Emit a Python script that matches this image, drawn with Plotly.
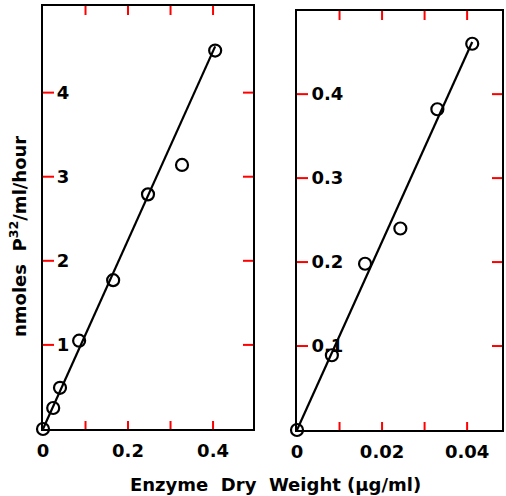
import plotly.graph_objects as go

# Left panel data (µg/ml, nmoles P32/ml/hour)
left_x = [0, 0.024, 0.040, 0.085, 0.165, 0.247, 0.327, 0.405]
left_y = [0, 0.25, 0.49, 1.05, 1.77, 2.79, 3.14, 4.50]
left_fit_x = [0, 0.405]
left_fit_y = [0, 4.55]

# Right panel data
right_x = [0, 0.0082, 0.0160, 0.0243, 0.0330, 0.0412]
right_y = [0, 0.089, 0.198, 0.240, 0.382, 0.460]
right_fit_x = [0, 0.0412]
right_fit_y = [0, 0.462]

left_xticks = [0, 0.1, 0.2, 0.3, 0.4]
left_xticktext = ["0", "", "0.2", "", "0.4"]
left_yticks = [1, 2, 3, 4]
left_yticktext = ["1", "2", "3", "4"]
right_xticks = [0, 0.01, 0.02, 0.03, 0.04]
right_xticktext = ["0", "", "0.02", "", "0.04"]
right_yticks = [0.1, 0.2, 0.3, 0.4]
right_yticktext = ["0.1", "0.2", "0.3", "0.4"]

FONT = "DejaVu Sans"
W, H = 506, 496
LEFT_XR = [0, 0.494]
LEFT_YR = [0, 5.03]
RIGHT_XR = [0, 0.0482]
RIGHT_YR = [0, 0.499]

fig = go.Figure()
line_style = dict(color="black", width=2.2)
marker_style = dict(symbol="circle-open", size=12, color="black", line=dict(width=2.2, color="black"))

fig.add_trace(go.Scatter(x=left_fit_x, y=left_fit_y, mode="lines", line=line_style,
                         xaxis="x", yaxis="y", showlegend=False, cliponaxis=False))
fig.add_trace(go.Scatter(x=left_x, y=left_y, mode="markers", marker=dict(**marker_style),
                         xaxis="x", yaxis="y", showlegend=False, cliponaxis=False))
fig.add_trace(go.Scatter(x=right_fit_x, y=right_fit_y, mode="lines", line=line_style,
                         xaxis="x2", yaxis="y2", showlegend=False, cliponaxis=False))
fig.add_trace(go.Scatter(x=right_x, y=right_y, mode="markers", marker=dict(**marker_style),
                         xaxis="x2", yaxis="y2", showlegend=False, cliponaxis=False))

tickfont = dict(family=FONT, size=18, color="black", weight="bold")
base = dict(showgrid=False, zeroline=False, showline=True, linecolor="black", linewidth=2.2,
            mirror=True, ticks="", tickfont=tickfont, tickmode="array", automargin=False)
common_x = dict(base, ticklabelstandoff=4)
common_y = dict(base, ticklabelposition="outside")

# inward tick marks on all four sides, placed at the axis tick values
tick_line = dict(color="red", width=2)
shapes = []
for xr, yr, xv, yv, xref, yref in [
    (LEFT_XR, LEFT_YR, left_xticks, left_yticks, "x", "y"),
    (RIGHT_XR, RIGHT_YR, right_xticks, right_yticks, "x2", "y2"),
]:
    for v in xv[1:]:
        shapes.append(dict(type="line", xref=xref, yref=yref, x0=v, x1=v, ysizemode="pixel",
                           yanchor=yr[0], y0=0, y1=8, line=tick_line))
        shapes.append(dict(type="line", xref=xref, yref=yref, x0=v, x1=v, ysizemode="pixel",
                           yanchor=yr[1], y0=0, y1=-9, line=tick_line))
    for v in yv:
        shapes.append(dict(type="line", xref=xref, yref=yref, y0=v, y1=v, xsizemode="pixel",
                           xanchor=xr[0], x0=0, x1=11, line=tick_line))
        shapes.append(dict(type="line", xref=xref, yref=yref, y0=v, y1=v, xsizemode="pixel",
                           xanchor=xr[1], x0=0, x1=-10, line=tick_line))

fig.update_layout(
    width=W, height=H,
    margin=dict(l=0, r=0, t=0, b=0),
    paper_bgcolor="white", plot_bgcolor="white",
    xaxis=dict(domain=[43 / W, 253 / W], range=LEFT_XR, tickvals=left_xticks,
               ticktext=left_xticktext, anchor="y", **common_x),
    yaxis=dict(domain=[1 - 429 / H, 1 - 6 / H], range=LEFT_YR, tickvals=left_yticks,
               ticktext=left_yticktext, anchor="x", ticklabelstandoff=-32, **common_y),
    xaxis2=dict(domain=[297 / W, 502 / W], range=RIGHT_XR, tickvals=right_xticks,
                ticktext=right_xticktext, anchor="y2", **common_x),
    yaxis2=dict(domain=[1 - 430 / H, 1 - 11 / H], range=RIGHT_YR, tickvals=right_yticks,
                ticktext=right_yticktext, anchor="x2", ticklabelstandoff=-52, **common_y),
    shapes=shapes,
    annotations=[
        dict(text="nmoles  P<sup>32</sup>/ml/hour", x=18 / W, y=1 - 237 / H, xref="paper", yref="paper",
             textangle=-90, showarrow=False, xanchor="center", yanchor="middle",
             font=dict(family=FONT, size=18, color="black", weight="bold")),
        dict(text="Enzyme  Dry  Weight (μg/ml)", x=275 / W, y=1 - 484 / H, xref="paper", yref="paper",
             showarrow=False, xanchor="center", yanchor="middle",
             font=dict(family=FONT, size=18, color="black", weight="bold")),
    ],
)

fig.write_html("out.html", config={"displayModeBar": False},
               post_script="document.body.style.margin='0px';document.body.style.overflow='hidden';")
